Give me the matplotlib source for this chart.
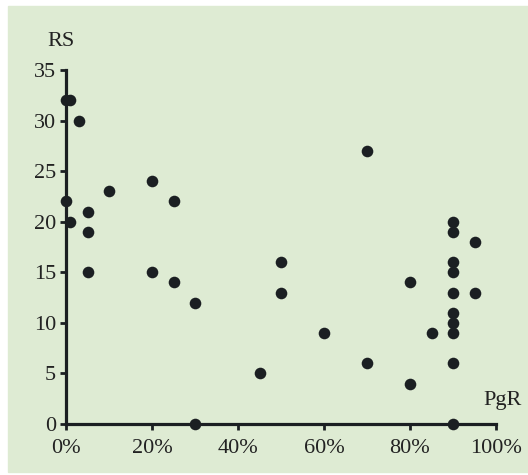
import matplotlib.pyplot as plt
from matplotlib.patches import Rectangle
from matplotlib.ticker import PercentFormatter

# data
pgr = [0.00, 0.01, 0.03, 0.00, 0.01, 0.05, 0.05, 0.10, 0.20, 0.25,
       0.05, 0.20, 0.25, 0.30, 0.30, 0.45, 0.50, 0.50, 0.60, 0.70,
       0.70, 0.80, 0.80, 0.85, 0.90, 0.90, 0.90, 0.90, 0.90, 0.90,
       0.90, 0.90, 0.90, 0.90, 0.95, 0.95]
rs = [32, 32, 30, 22, 20, 21, 19, 23, 24, 22,
      15, 15, 14, 12, 0, 5, 16, 13, 9, 27,
      6, 14, 4, 9, 20, 19, 16, 15, 13, 11,
      10, 9, 6, 0, 18, 13]

x_ticks = [0, 0.2, 0.4, 0.6, 0.8, 1.0]
y_ticks = [0, 5, 10, 15, 20, 25, 30, 35]

plt.rcParams['font.family'] = ['Liberation Serif', 'DejaVu Serif']
dark = '#1b1f22'

fig = plt.figure(figsize=(5.28, 4.75), dpi=100)
fig.patches.append(Rectangle((8 / 528, 3 / 475), 1, 466 / 475,
                             transform=fig.transFigure, color='#deebd3', zorder=-10))

ax = fig.add_axes([66 / 528, 51 / 475, 430 / 528, 354 / 475])
ax.set_facecolor('none')
ax.scatter(pgr, rs, s=70, color=dark, clip_on=False, zorder=3, linewidths=0)

ax.set_xlim(0, 1)
ax.set_ylim(0, 35)
ax.set_xticks(x_ticks)
ax.set_yticks(y_ticks)
ax.xaxis.set_major_formatter(PercentFormatter(1.0, decimals=0))

for side in ['top', 'right']:
    ax.spines[side].set_visible(False)
for side in ['left', 'bottom']:
    ax.spines[side].set_linewidth(2.3)
    ax.spines[side].set_color(dark)
ax.tick_params(length=4, width=2, color=dark, labelsize=16, labelcolor='#222222', pad=3)
ax.tick_params(axis='x', pad=7)

fig.text(61 / 528, 1 - 42 / 475, 'RS', fontsize=16, ha='center', va='center', color='#222222')
fig.text(503 / 528, 1 - 400 / 475, 'PgR', fontsize=16, ha='center', va='center', color='#222222')

fig.savefig('out.png', dpi=100)
